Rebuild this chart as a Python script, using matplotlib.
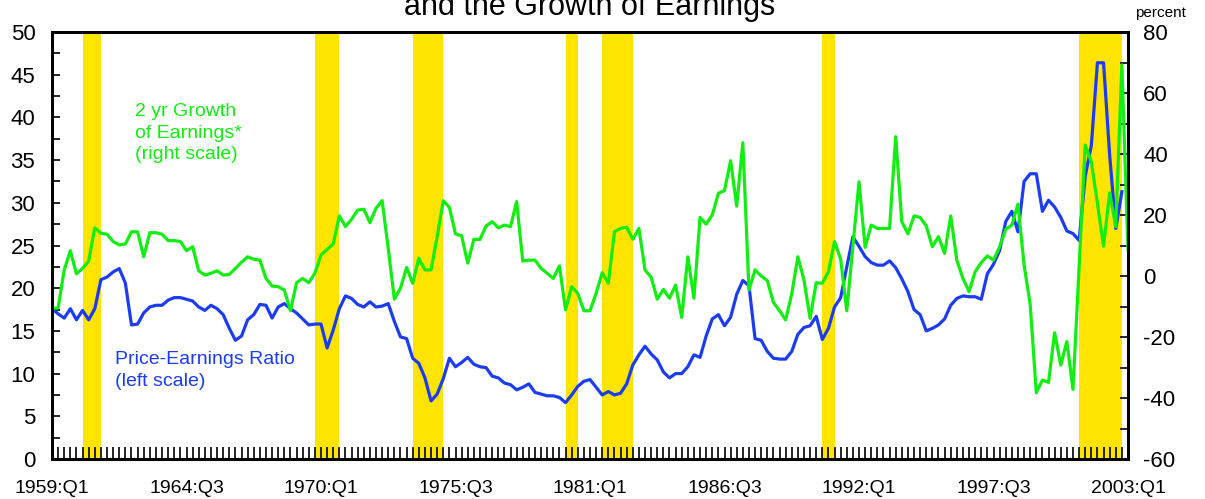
import matplotlib
matplotlib.use('Agg')
import matplotlib.pyplot as plt
from matplotlib.ticker import MultipleLocator, FixedLocator

plt.rcParams['font.family'] = ['Liberation Sans', 'DejaVu Sans']
plt.rcParams['axes.unicode_minus'] = False

# quarterly series, index 0 = 1959:Q1
pe_ratio = [
    17.6, 17.0, 16.5, 17.6, 16.3, 17.4, 16.3, 17.6, 21.0, 21.3,
    21.9, 22.3, 20.6, 15.7, 15.8, 17.1, 17.8, 18.0, 18.0, 18.6,
    18.9, 18.9, 18.7, 18.5, 17.8, 17.4, 18.0, 17.6, 16.9, 15.3,
    13.9, 14.4, 16.3, 16.9, 18.1, 18.0, 16.5, 17.8, 18.2, 17.6,
    17.1, 16.4, 15.7, 15.8, 15.8, 13.0, 15.1, 17.6, 19.1, 18.8,
    18.1, 17.8, 18.4, 17.8, 17.9, 18.2, 16.1, 14.3, 14.1, 11.8,
    11.2, 9.5, 6.8, 7.6, 9.4, 11.8, 10.8, 11.3, 11.9, 11.1,
    10.8, 10.7, 9.7, 9.5, 8.9, 8.7, 8.1, 8.4, 8.8, 7.8,
    7.6, 7.4, 7.4, 7.2, 6.6, 7.5, 8.5, 9.1, 9.3, 8.4,
    7.5, 7.9, 7.5, 7.7, 8.8, 11.0, 12.2, 13.2, 12.3, 11.6,
    10.2, 9.5, 10.0, 10.0, 10.8, 12.2, 11.9, 14.4, 16.4, 16.9,
    15.6, 16.6, 19.3, 20.9, 20.3, 14.1, 13.9, 12.6, 11.8, 11.7,
    11.7, 12.6, 14.6, 15.4, 15.6, 16.7, 14.0, 15.3, 17.8, 18.9,
    22.5, 26.0, 24.9, 23.7, 23.0, 22.7, 22.7, 23.2, 22.4, 21.1,
    19.6, 17.5, 16.9, 15.0, 15.3, 15.7, 16.4, 18.0, 18.8, 19.1,
    19.0, 19.0, 18.7, 21.7, 22.8, 24.4, 27.8, 29.0, 26.6, 32.5,
    33.4, 33.4, 29.0, 30.3, 29.5, 28.3, 26.7, 26.4, 25.6, 33.1,
    36.7, 46.4, 46.4, 35.6, 27.0, 31.3,
]

earnings_growth = [
    -10.6, -10.5, 2.0, 8.3, 0.7, 2.5, 4.9, 15.8, 14.0, 13.7,
    11.3, 10.2, 10.5, 14.5, 14.5, 6.3, 14.2, 14.2, 13.7, 11.6,
    11.6, 11.3, 8.3, 9.6, 1.7, 0.3, 0.9, 1.7, 0.3, 0.5,
    2.5, 4.5, 6.3, 5.5, 5.2, -0.8, -3.3, -3.5, -4.6, -11.4,
    -2.2, -0.8, -2.2, 0.9, 6.9, 8.7, 10.5, 19.7, 16.2, 18.6,
    21.6, 21.9, 17.5, 22.2, 24.7, 9.0, -7.6, -4.0, 2.8, -2.4,
    5.8, 2.0, 2.0, 12.9, 24.7, 22.5, 13.8, 13.2, 4.2, 12.0,
    12.0, 16.4, 17.8, 15.8, 16.7, 16.2, 24.4, 4.9, 5.2, 5.2,
    2.5, 0.9, -0.8, 3.3, -11.1, -3.5, -5.7, -11.4, -11.4, -5.7,
    1.1, -2.4, 14.5, 15.6, 16.0, 12.0, 15.6, 2.0, -0.4, -7.6,
    -4.4, -7.3, -3.0, -13.6, 6.3, -7.3, 19.2, 17.0, 20.0, 27.1,
    28.0, 37.8, 22.9, 43.7, -4.6, 2.0, 0.0, -1.5, -8.7, -11.4,
    -14.4, -5.9, 6.3, -1.3, -13.9, -2.2, -2.4, 1.4, 11.3, 5.5,
    -11.4, 9.6, 30.9, 9.4, 16.7, 15.6, 15.6, 15.6, 45.7, 17.8,
    13.8, 19.7, 19.2, 16.4, 9.6, 12.9, 7.4, 19.7, 5.2, -0.8,
    -5.1, 1.4, 4.4, 6.6, 5.2, 9.6, 15.3, 16.7, 23.6, 3.6,
    -9.2, -38.3, -34.1, -34.9, -18.6, -29.2, -21.5, -37.2, 3.0, 42.9,
    37.5, 23.8, 9.8, 27.3, 16.2, 69.2, 8.5,
]

# recession shading, start/end quarter index
recession_start = [5, 43, 59, 84, 90, 126, 168]
recession_end = [8, 47, 64, 86, 95, 128, 175]

date_labels = ['1959:Q1', '1964:Q3', '1970:Q1', '1975:Q3', '1981:Q1',
               '1986:Q3', '1992:Q1', '1997:Q3', '2003:Q1']
label_step = 22

GREEN = '#12EE12'
BLUE = '#1C3CF2'
YELLOW = '#FFE400'

W, H = 1205, 499
fig = plt.figure(figsize=(W / 100, H / 100), dpi=100)
ax = fig.add_axes([52 / W, 40 / H, 1076 / W, 427 / H])
ax2 = ax.twinx()

for s, e in zip(recession_start, recession_end):
    ax.axvspan(s, e, color=YELLOW, lw=0, zorder=0)

ax.plot(range(len(pe_ratio)), pe_ratio, color=BLUE, lw=2.3, zorder=3)
ax2.plot(range(len(earnings_growth)), earnings_growth, color=GREEN, lw=2.3)

ax.set_xlim(0, len(earnings_growth) - 1)
ax.set_ylim(0, 50)
ax2.set_ylim(-60, 80)

ax.xaxis.set_major_locator(FixedLocator([i * label_step for i in range(len(date_labels))]))
ax.set_xticklabels(date_labels)
ax.xaxis.set_minor_locator(MultipleLocator(1))
ax.yaxis.set_major_locator(MultipleLocator(5))
ax.yaxis.set_minor_locator(MultipleLocator(2.5))
ax2.yaxis.set_major_locator(MultipleLocator(20))
ax2.yaxis.set_minor_locator(MultipleLocator(10))

ax.tick_params(axis='x', which='both', direction='in', length=9, width=1.2,
               top=False, labelsize=14, pad=15)
ax.tick_params(axis='y', which='both', direction='in', length=6, width=1.2,
               right=False, labelsize=16, pad=12)
ax2.tick_params(axis='y', which='both', direction='in', length=6, width=1.2,
                labelsize=16, pad=11)

for a in (ax, ax2):
    for sp in a.spines.values():
        sp.set_linewidth(2)

fig.text(590 / W, 1 - 15 / H, 'and the Growth of Earnings', ha='center',
         va='baseline', fontsize=22)
fig.text(1160 / W, 1 - 17 / H, 'percent', ha='center', va='baseline', fontsize=11)

fig.text(135 / W, 1 - 103 / H, '2 yr Growth\nof Earnings*\n(right scale)',
         color=GREEN, fontsize=14, ha='left', va='top', linespacing=1.35)
fig.text(115 / W, 1 - 351 / H, 'Price-Earnings Ratio\n(left scale)',
         color=BLUE, fontsize=14, ha='left', va='top', linespacing=1.35)

fig.savefig('out.png', dpi=100)
